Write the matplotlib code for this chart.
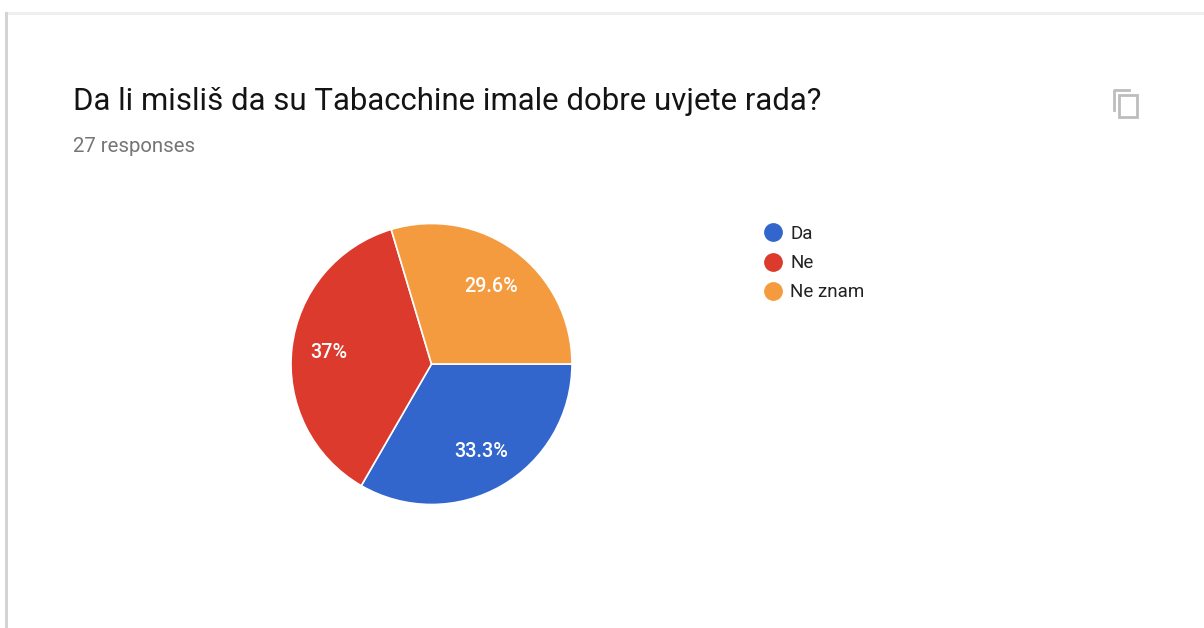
import matplotlib
matplotlib.use("Agg")
import matplotlib.pyplot as plt
from matplotlib.lines import Line2D
from matplotlib.patches import Rectangle

plt.rcParams['font.family'] = ['Roboto', 'DejaVu Sans']

TITLE = "Da li misliš da su Tabacchine imale dobre uvjete rada?"
SUBTITLE = "27 responses"
labels = ["Da", "Ne", "Ne znam"]
responses = [9, 10, 8]
colors = ["#3366CC", "#DC3A2C", "#F59B3F"]
W, H = 1204, 628


def pct_label(p):
    return f"{round(p, 1):g}%"


def main():
    fig = plt.figure(figsize=(W / 100, H / 100), dpi=100, facecolor="white")

    # Page furniture, in pixel coordinates of the screenshot
    bg = fig.add_axes([0, 0, 1, 1])
    bg.set_xlim(0, W)
    bg.set_ylim(H, 0)
    bg.axis("off")
    bg.add_patch(Rectangle((5, 12), W - 5, 3, color="#EFEFEF", lw=0))
    bg.add_patch(Rectangle((5, 12), 3, H - 12, color="#D4D4D4", lw=0))
    bg.text(73, 101, TITLE, fontsize=22.4, color="#141414", va="center", ha="left")
    bg.text(73, 147, SUBTITLE, fontsize=14.7, color="#757575", va="center", ha="left")

    # Copy icon
    bg.add_patch(Rectangle((1119, 95), 18, 22, fill=False, ec="#BDBDBD", lw=2))
    bg.plot([1113.5, 1113.5, 1129], [110, 90, 90], color="#BDBDBD", lw=2)

    # Pie
    cx, cy, r = 431.5, 364, 140.5
    ax = fig.add_axes([(cx - r) / W, 1 - (cy + r) / H, 2 * r / W, 2 * r / H])
    wedges, texts, autotexts = ax.pie(
        responses, colors=colors, startangle=0, counterclock=False,
        autopct=pct_label, pctdistance=0.705, radius=1,
        wedgeprops={'edgecolor': 'white', 'linewidth': 1.2},
        textprops={'color': 'white', 'fontsize': 14.2, 'fontweight': 500},
    )
    ax.set_xlim(-1, 1)
    ax.set_ylim(-1, 1)
    # small nudges to sit where the original labels sit
    autotexts[1].set_x(autotexts[1].get_position()[0] - 0.03)
    autotexts[0].set_y(autotexts[0].get_position()[1] - 0.014)
    autotexts[2].set_y(autotexts[2].get_position()[1] - 0.014)

    # Legend
    handles = [Line2D([], [], marker="o", ls="", color=c, markersize=12.5) for c in colors]
    fig.legend(handles, labels, loc="upper left", bbox_to_anchor=(747 / W, 1 - 208 / H),
               frameon=False, fontsize=13.5, labelcolor="#222222", labelspacing=0.6,
               handlelength=1, handletextpad=0.4, borderpad=0.4)

    fig.savefig("out.png", dpi=100)


main()
